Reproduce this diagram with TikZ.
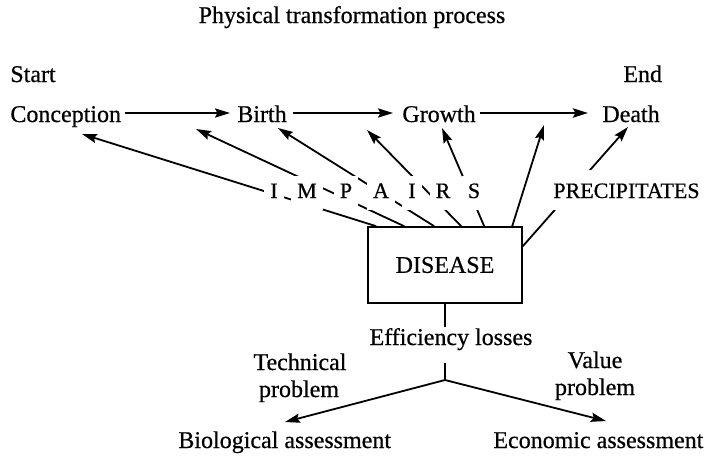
\documentclass[tikz,border=0pt]{standalone}
\usepackage{fontspec}
\setmainfont{Liberation Serif}[FakeBold=0.6]
\usetikzlibrary{arrows.meta,calc}
\begin{document}
\begin{tikzpicture}[x=0.5pt,y=-0.5pt,
  txt/.style={font=\fontsize{12}{14}\selectfont, inner sep=0pt, text height=9pt, text depth=0pt},
  lbl/.style={font=\fontsize{12}{14}\selectfont, inner sep=0pt},
  letter/.style={font=\fontsize{11}{13}\selectfont, fill=white, text height=8pt, text depth=3pt, inner sep=3pt, anchor=base},
  ln/.style={line width=0.9pt},
  arr/.style={line width=0.9pt, -{Stealth[length=7.5pt,width=4.6pt,inset=1.2pt]}},
  box/.style={draw, line width=0.8pt, minimum width=77pt, minimum height=38pt, inner sep=0pt, font=\fontsize{12}{14}\selectfont}
]
\useasboundingbox (0,0) rectangle (717,456);

% title and stage labels
\node[lbl, anchor=base] (title) at (352,23) {Physical transformation process};
\node[lbl, anchor=base west] (start) at (10,82) {Start};
\node[lbl, anchor=base west] (end) at (623,82) {End};
\node[txt, anchor=base west] (conc) at (10,122) {Conception};
\node[txt, anchor=base west] (birth) at (237,122) {Birth};
\node[txt, anchor=base west] (growth) at (402,122) {Growth};
\node[txt, anchor=base west] (death) at (602,122) {Death};

\draw[arr, shorten <=2pt, shorten >=3.5pt] (conc.east) -- (birth.west);
\draw[arr, shorten <=3pt, shorten >=4.5pt] (birth.east) -- (growth.west);
\draw[arr, line width=1.3pt, shorten <=2pt, shorten >=7pt] (growth.east) -- (death.west);

% disease box
\node[box] (dis) at (445,265) {DISEASE};

\coordinate (t1) at (82,134);
\coordinate (t2) at (196,129);
\coordinate (t3) at (278,128);
\coordinate (t4) at (367,130);
\coordinate (t5) at (442,128);
\coordinate (t6) at (544,125);
\coordinate (t7) at (628,127);

\draw[arr] ([xshift=4.5pt]dis.north west) -- (t1);
\draw[arr] ([xshift=18.5pt]dis.north west) -- (t2);
\draw[arr] ([xshift=33.5pt]dis.north west) -- (t3);
\draw[arr] ([xshift=47pt]dis.north west) -- (t4);
\draw[arr] ([xshift=58.5pt]dis.north west) -- (t5);
\draw[arr] ([xshift=72.5pt]dis.north west) -- (t6);
\draw[arr] ([yshift=-10pt]dis.north east) -- (t7);

% IMPAIRS letters and PRECIPITATES (over the lines)
\node[letter] (l1) at (274,198) {I};
\node[letter] (l2) at (307,198) {M};
\node[letter] (l3) at (346,198) {P};
\node[letter] (l4) at (381,198) {A};
\node[letter] (l5) at (412,198) {I};
\node[letter] (l6) at (443,198) {R};
\node[letter] (l7) at (474,198) {S};
\node[font=\fontsize{11}{13}\selectfont, fill=white, text height=8pt, text depth=0pt, inner xsep=3pt, inner ysep=6pt, anchor=base west] (prec) at (547,198) {PRECIPITATES};

% lower part
\node[lbl, text height=8pt, text depth=8pt, inner ysep=1pt, anchor=base] (eff) at (451,345) {Efficiency losses};
\coordinate (j) at (445,380);
\draw[ln] (dis.south) -- (dis.south |- eff.north);
\draw[ln] (dis.south |- eff.south) -- (j);

\node[lbl, anchor=base] (tech1) at (300,370) {Technical};
\node[lbl, anchor=base] (tech2) at (299,397) {problem};
\node[lbl, anchor=base] (val1) at (595,368) {Value};
\node[lbl, anchor=base] (val2) at (595,395) {problem};

\node[lbl, anchor=base west] (bio) at (178,448) {Biological assessment};
\node[lbl, anchor=base west] (eco) at (493,448) {Economic assessment};

\coordinate (b1) at (285,422);
\coordinate (e1) at (606,421);
\draw[arr] (j) -- (b1);
\draw[arr] (j) -- (e1);
\end{tikzpicture}
\end{document}
